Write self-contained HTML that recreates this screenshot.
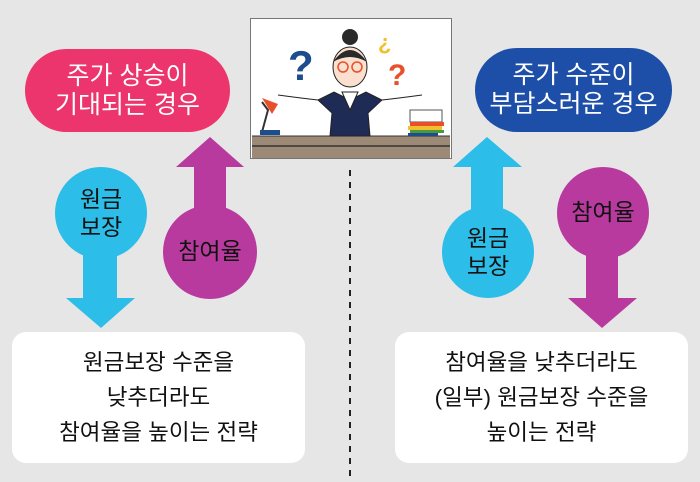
<!DOCTYPE html>
<html><head><meta charset="utf-8"><style>
body{margin:0;width:700px;height:482px;background:#e6e6e6;overflow:hidden;position:relative;font-family:"Liberation Sans","Noto Sans CJK KR",sans-serif}
.a{position:absolute}
.pill{position:absolute;color:#fff;font-size:25px;line-height:29px;text-align:center;display:flex;align-items:center;justify-content:center;border-radius:42px}
.box{position:absolute;background:#fff;border-radius:14px;font-size:22.5px;line-height:35px;text-align:center;color:#111;display:flex;align-items:center;justify-content:center}
.ct{position:absolute;font-size:23px;line-height:28px;text-align:center;color:#111}
</style></head><body>
<svg class="a" style="left:0;top:0" width="700" height="482">
<line x1="350" y1="170" x2="350" y2="476" stroke="#222" stroke-width="2" stroke-dasharray="6,6"/>
<rect x="83" y="240" width="34" height="60" fill="#2cbde8"/>
<polygon points="66,298 135,298 101,328" fill="#2cbde8"/>
<circle cx="101" cy="213" r="46" fill="#2cbde8"/>
<rect x="194" y="165" width="32" height="70" fill="#b93a9e"/>
<polygon points="176,167 244,167 210,137" fill="#b93a9e"/>
<circle cx="210" cy="252" r="47" fill="#b93a9e"/>
<rect x="471" y="165" width="32" height="70" fill="#2cbde8"/>
<polygon points="453,167 522,167 487,137" fill="#2cbde8"/>
<circle cx="488" cy="252" r="46" fill="#2cbde8"/>
<rect x="586" y="240" width="32" height="60" fill="#b93a9e"/>
<polygon points="568,298 637,298 602,328" fill="#b93a9e"/>
<circle cx="603" cy="213" r="46" fill="#b93a9e"/>
<rect x="250.5" y="18.5" width="201" height="140" fill="#fff" stroke="#777"/>
<rect x="252" y="136" width="198" height="22" fill="#9c8a76"/>
<line x1="252" y1="146" x2="450" y2="146" stroke="#333" stroke-width="1.5"/>
<line x1="252" y1="136" x2="450" y2="136" stroke="#333" stroke-width="1"/>
<path d="M330,136 L332,113 L318,100 L334,92 L350,100 L366,92 L382,100 L368,113 L370,136 Z" fill="#1e2c55" stroke="#222"/>
<path d="M342,92 L350,110 L358,92 Z" fill="#fff" stroke="#222"/>
<ellipse cx="350" cy="67" rx="17" ry="20" fill="#fbe0cf" stroke="#222"/>
<path d="M333,62 Q350,38 367,62 Q350,52 333,62Z" fill="#2a2a2a"/>
<circle cx="350" cy="37" r="8" fill="#2a2a2a"/>
<circle cx="343" cy="67" r="5" fill="none" stroke="#e8502a" stroke-width="1.5"/>
<circle cx="357" cy="67" r="5" fill="none" stroke="#e8502a" stroke-width="1.5"/>
<path d="M278,95 Q300,98 318,100" stroke="#222" fill="none"/>
<path d="M422,95 Q400,98 382,100" stroke="#222" fill="none"/>
<text x="288" y="80" font-size="42" font-weight="bold" fill="#1d4d8c" font-family="Liberation Sans">?</text>
<text x="388" y="85" font-size="30" font-weight="bold" fill="#e8502a" font-family="Liberation Sans">?</text>
<text x="378" y="50" font-size="22" font-weight="bold" fill="#f0c030" font-family="Liberation Sans">¿</text>
<path d="M262,132 L268,110 L262,102" stroke="#333" stroke-width="2" fill="none"/>
<path d="M262,98 L278,104 L272,114Z" fill="#e8502a"/>
<rect x="260" y="130" width="20" height="5" fill="#1d4d8c"/>
<rect x="410" y="110" width="32" height="12" fill="#fff" stroke="#555"/>
<rect x="410" y="122" width="34" height="4" fill="#e8502a"/>
<rect x="408" y="126" width="34" height="4" fill="#f0c030"/>
<rect x="410" y="130" width="34" height="3" fill="#4a9a3a"/>
<rect x="408" y="133" width="30" height="3" fill="#1d4d8c"/>
</svg>
<div class="pill" style="left:25px;top:49px;width:205px;height:83px;background:#eb356c">주가 상승이<br>기대되는 경우</div>
<div class="pill" style="left:475px;top:48px;width:197px;height:84px;background:#1e4fa8">주가 수준이<br>부담스러운 경우</div>
<div class="ct" style="left:55px;top:185px;width:92px">원금<br>보장</div>
<div class="ct" style="left:163px;top:237px;width:94px">참여율</div>
<div class="ct" style="left:442px;top:224px;width:92px">원금<br>보장</div>
<div class="ct" style="left:557px;top:198px;width:92px">참여율</div>
<div class="box" style="left:12px;top:332px;width:293px;height:131px">원금보장 수준을<br>낮추더라도<br>참여율을 높이는 전략</div>
<div class="box" style="left:395px;top:332px;width:293px;height:131px">참여율을 낮추더라도<br>(일부) 원금보장 수준을<br>높이는 전략</div>
</body></html>
